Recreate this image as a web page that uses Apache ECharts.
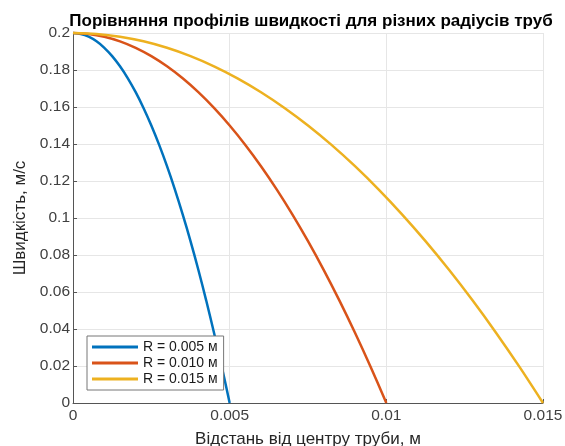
<!DOCTYPE html>
<html><head><meta charset="utf-8">
<script src="https://cdn.jsdelivr.net/npm/echarts@6/dist/echarts.min.js"></script>
<style>html,body{margin:0;padding:0;background:#fff}#c{width:565px;height:446px}</style>
</head><body><div id="c"></div>
<script>
const titleText = 'Порівняння профілів швидкості для різних радіусів труб';
const xName = 'Відстань від центру труби, м';
const yName = 'Швидкість, м/с';
const seriesNames = ['R = 0.005 м', 'R = 0.010 м', 'R = 0.015 м'];
const colors = ['#0072BD', '#D95319', '#EDB120'];

// radial positions (m) for each curve
const r1 = [0,0.00025,0.0005,0.00075,0.001,0.00125,0.0015,0.00175,0.002,0.00225,0.0025,0.00275,0.003,0.00325,0.0035,0.00375,0.004,0.00425,0.0045,0.00475,0.005];
const r2 = [0,0.0005,0.001,0.0015,0.002,0.0025,0.003,0.0035,0.004,0.0045,0.005,0.0055,0.006,0.0065,0.007,0.0075,0.008,0.0085,0.009,0.0095,0.01];
const r3 = [0,0.00075,0.0015,0.00225,0.003,0.00375,0.0045,0.00525,0.006,0.00675,0.0075,0.00825,0.009,0.00975,0.0105,0.01125,0.012,0.01275,0.0135,0.01425,0.015];
// velocities (m/s)
const v1 = [0.2,0.1995,0.198,0.1955,0.192,0.1875,0.182,0.1755,0.168,0.1595,0.15,0.1395,0.128,0.1155,0.102,0.0875,0.072,0.0555,0.038,0.0195,0];
const v2 = [0.2,0.1995,0.198,0.1955,0.192,0.1875,0.182,0.1755,0.168,0.1595,0.15,0.1395,0.128,0.1155,0.102,0.0875,0.072,0.0555,0.038,0.0195,0];
const v3 = [0.2,0.1995,0.198,0.1955,0.192,0.1875,0.182,0.1755,0.168,0.1595,0.15,0.1395,0.128,0.1155,0.102,0.0875,0.072,0.0555,0.038,0.0195,0];

const font = 'Liberation Sans, Arial, Helvetica, sans-serif';
const pairs = (xs, ys) => xs.map((x, i) => [x, ys[i]]);
const rs = [r1, r2, r3], vs = [v1, v2, v3];

const chart = echarts.init(document.getElementById('c'), null, {renderer: 'canvas'});
chart.setOption({
  animation: false,
  backgroundColor: '#fff',
  title: {
    text: titleText, left: 306, top: 8, textAlign: 'center',
    textStyle: {fontFamily: font, fontSize: 17, fontWeight: 'bold', color: '#000'}
  },
  grid: {left: 73, right: 22, top: 33, bottom: 43, containLabel: false, outerBoundsMode: 'none'},
  legend: {
    data: seriesNames, orient: 'vertical', left: 87, top: 336,
    icon: 'rect', itemWidth: 46, itemHeight: 3, itemGap: 2,
    padding: [4, 6, 4, 5],
    backgroundColor: '#fff', borderColor: '#777', borderWidth: 1,
    textStyle: {fontFamily: font, fontSize: 14, color: '#1a1a1a', lineHeight: 14}
  },
  xAxis: {
    type: 'value', min: 0, max: 0.015, interval: 0.005,
    name: xName, nameLocation: 'middle', nameGap: 28,
    nameTextStyle: {fontFamily: font, fontSize: 17, color: '#262626'},
    axisLine: {show: true, lineStyle: {color: '#555', width: 1}},
    axisTick: {show: true, inside: true, length: 4, lineStyle: {color: '#555'}},
    axisLabel: {fontFamily: font, fontSize: 15.5, color: '#404040', margin: 5,
      formatter: v => String(+v.toFixed(4))},
    splitLine: {show: true, lineStyle: {color: '#e6e6e6', width: 1}}
  },
  yAxis: {
    type: 'value', min: 0, max: 0.2, interval: 0.02,
    name: yName, nameLocation: 'middle', nameGap: 38, nameRotate: 90,
    nameTextStyle: {fontFamily: font, fontSize: 17, color: '#262626'},
    axisLine: {show: true, lineStyle: {color: '#555', width: 1}},
    axisTick: {show: true, inside: true, length: 4, lineStyle: {color: '#555'}},
    axisLabel: {fontFamily: font, fontSize: 15.5, color: '#404040', margin: 3,
      formatter: v => String(+v.toFixed(3))},
    splitLine: {show: true, lineStyle: {color: '#e6e6e6', width: 1}}
  },
  series: seriesNames.map((n, i) => ({
    name: n, type: 'line', data: pairs(rs[i], vs[i]), smooth: 0.3,
    showSymbol: false, symbol: 'none', clip: false,
    lineStyle: {color: colors[i], width: 2.5}, itemStyle: {color: colors[i]}
  }))
});
</script></body></html>
